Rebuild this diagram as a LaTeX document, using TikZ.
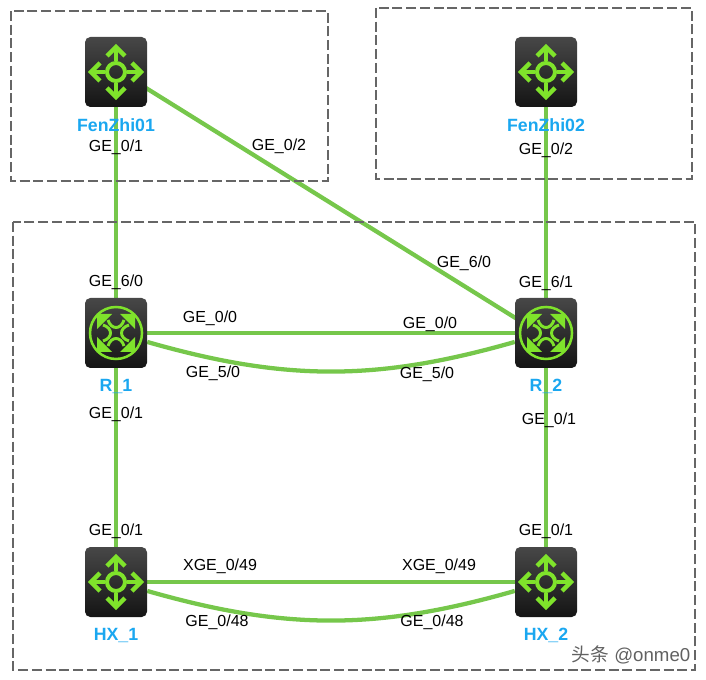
\documentclass[tikz,border=0pt]{standalone}
\usepackage{fontspec}
\setmainfont{Liberation Sans}
\newfontfamily\cjkfont{Noto Sans CJK SC}
\usetikzlibrary{positioning, backgrounds}

\definecolor{linkgreen}{HTML}{76C74B}
\definecolor{icongreen}{HTML}{7FE32B}
\definecolor{namblue}{HTML}{1AA7F0}
\definecolor{zonegray}{HTML}{666666}

\tikzset{
  device/.style={rounded corners=4pt, minimum width=46.5pt, minimum height=52.5pt, inner sep=0pt,
    top color=black!72, bottom color=black!92},
  link/.style={draw=linkgreen, line width=3.2pt},
  zone/.style={draw=zonegray, line width=2.2pt, dash pattern=on 7.5pt off 2.8pt},
  port/.style={font=\fontsize{12pt}{14pt}\selectfont, inner sep=0pt, yshift=-.6pt},
  devname/.style={font=\fontsize{13.3pt}{15pt}\selectfont\bfseries, text=namblue, inner sep=0pt},
  pics/switchicon/.style={code={
    \draw[icongreen, line width=3pt] (0,0) circle (9);
    \foreach \a in {0,90,180,270} {
      \begin{scope}[rotate=\a]
        \draw[icongreen, line width=3.2pt] (11,0) -- (24,0);
        \draw[icongreen, line width=3.2pt] (16,-9) -- (25,0) -- (16,9);
      \end{scope}
    }
  }},
  pics/routericon/.style={code={
    \draw[icongreen, line width=1.9pt] (0,0) circle (26);
    \foreach \a in {0,90,180,270} {
      \begin{scope}[rotate=\a]
        \fill[icongreen] (19,-19) -- (4,-19) -- (9,-14) -- (14,-9) -- (19,-4) -- cycle;
        \draw[icongreen, line width=2.2pt] (8,-13) .. controls (5,-3) and (-5,-3) .. (-8,-13);
      \end{scope}
    }
  }},
}

\begin{document}
\begin{tikzpicture}[x=.75pt, y=-.75pt, node distance=39.75pt, on grid]
\useasboundingbox (0,0) rectangle (706,680);

% Zones
\draw[zone] (11,11) rectangle (328,181);
\draw[zone] (376,8) rectangle (692,179);
\draw[zone] (13,222) rectangle (695,670);

% Devices
\node[device] (fz1) at (116,72) {};
\node[device, right=322.5pt of fz1] (fz2) {};
\node[device, below=195.75pt of fz1] (r1) {};
\node[device, right=322.5pt of r1] (r2) {};
\node[device, below=186.75pt of r1] (hx1) {};
\node[device, right=322.5pt of hx1] (hx2) {};

\foreach \d in {fz1,fz2,hx1,hx2} {
  \pic at (\d) {switchicon};
}
\foreach \d in {r1,r2} {
  \pic at (\d) {routericon};
}

% Links
\begin{scope}[on background layer]
\draw[link] (fz1) -- (r1);
\draw[link] ([yshift=2pt]fz1.center) -- ([yshift=-3pt]r2.center);
\draw[link] (fz2) -- (r2);
\draw[link] (r1) -- (r2);
\draw[link] (r1) to[bend right=16] (r2);
\draw[link] (r1) -- (hx1);
\draw[link] (r2) -- (hx2);
\draw[link] (hx1) -- (hx2);
\draw[link] (hx1) to[bend right=16] (hx2);
\end{scope}

% Device names
\node[devname, below=of fz1] (fz1name) {FenZhi01};
\node[devname, below=of fz2] (fz2name) {FenZhi02};
\node[devname, below=of r1] (r1name) {R\_1};
\node[devname, below=of r2] (r2name) {R\_2};
\node[devname, below=of hx1] (hx1name) {HX\_1};
\node[devname, below=of hx2] (hx2name) {HX\_2};

% Port labels
\foreach \x/\y/\s/\t [count=\n] in {
  116/146/GE\_0/1, 279/145/GE\_0/2, 546/149/GE\_0/2,
  464/262/GE\_6/0, 116/281/GE\_6/0, 546/282/GE\_6/1,
  210/317/GE\_0/0, 430/323/GE\_0/0, 213/372/GE\_5/0, 427/373/GE\_5/0,
  116/413/GE\_0/1, 549/419/GE\_0/1, 116/530/GE\_0/1, 546/530/GE\_0/1,
  220/565/XGE\_0/49, 439/565/XGE\_0/49, 217/621/GE\_0/48, 432/621/GE\_0/48} {
  \node[port] (port\n) at (\x,\y) {\s/\t};
}

\node[text=black!62, font=\fontsize{14pt}{16pt}\selectfont, inner sep=0pt] (mark) at (631,655) {{\cjkfont 头条} @onme0};
\end{tikzpicture}
\end{document}
